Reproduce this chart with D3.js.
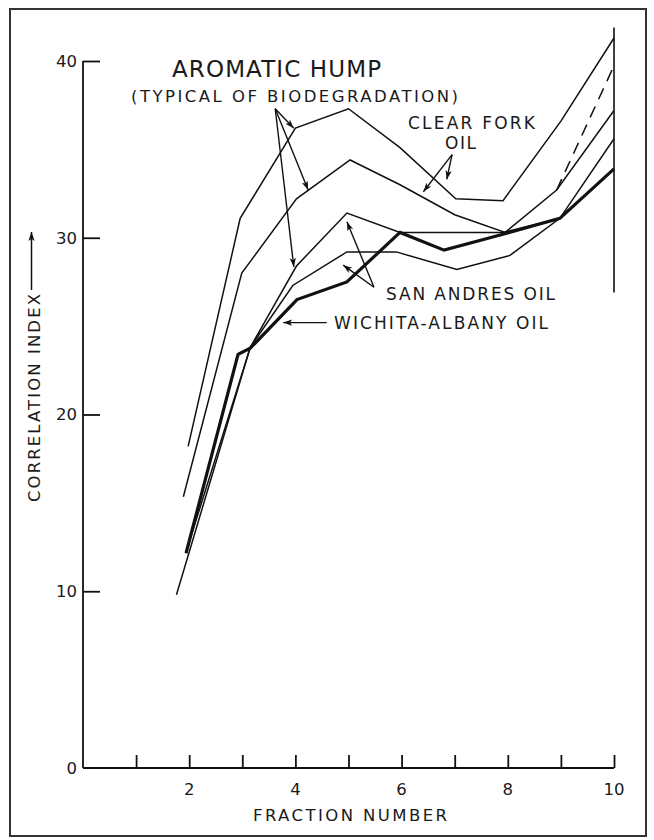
<!DOCTYPE html>
<html>
<head>
<meta charset="utf-8">
<script src="https://cdn.jsdelivr.net/npm/d3@7"></script>
<style>
  html, body { margin: 0; padding: 0; background: #fff; }
  svg { display: block; }
  text { font-family: "DejaVu Sans", "Liberation Sans", sans-serif; fill: #1a1a1a; }
</style>
</head>
<body>
<script>
// ---------------- data ----------------
const xTickValues = [1, 2, 3, 4, 5, 6, 7, 8, 9, 10];
const xTickLabels = [2, 4, 6, 8, 10];
const yTickValues = [0, 10, 20, 30, 40];

const clearForkUpperX = [1.98, 2.96, 4.0, 5.0, 5.97, 7.02, 7.91, 9.0, 10.0];
const clearForkUpperY = [18.2, 31.1, 36.2, 37.3, 35.1, 32.2, 32.1, 36.6, 41.3];

const clearForkLowerX = [1.89, 2.99, 4.02, 5.03, 5.97, 7.0, 7.95, 8.92, 10.0];
const clearForkLowerY = [15.35, 28.0, 32.2, 34.4, 33.0, 31.3, 30.3, 32.7, 37.2];

const clearForkDashedX = [8.92, 9.98];
const clearForkDashedY = [32.7, 39.6];

const sanAndresUpperX = [1.76, 3.15, 4.02, 4.97, 5.97, 7.91, 8.98, 10.0];
const sanAndresUpperY = [9.8, 23.8, 28.4, 31.4, 30.3, 30.3, 31.1, 33.9];

const sanAndresLowerX = [1.94, 3.15, 3.95, 4.97, 5.9, 7.04, 8.04, 8.98, 10.0];
const sanAndresLowerY = [12.2, 23.8, 27.3, 29.2, 29.2, 28.2, 29.0, 31.1, 35.6];

const wichitaX = [1.94, 2.92, 3.15, 4.03, 4.97, 5.97, 6.8, 7.91, 8.98, 10.0];
const wichitaY = [12.15, 23.4, 23.75, 26.5, 27.5, 30.3, 29.3, 30.2, 31.1, 33.9];

const rangeBarX = 10.0;
const rangeBarY = [26.9, 41.9];

// annotation arrows [fromX, fromY, toX, toY] in data units
const humpArrows = [[3.62, 37.3, 3.97, 36.2], [3.62, 37.3, 4.24, 32.7], [3.62, 37.3, 3.97, 28.35]];
const clearForkArrows = [[6.95, 34.7, 6.41, 32.6], [6.95, 34.7, 6.85, 33.3]];
const sanAndresArrows = [[5.48, 27.2, 4.97, 30.9], [5.48, 27.2, 4.9, 28.45]];
const wichitaArrows = [[4.59, 25.2, 3.77, 25.2]];

// ---------------- layout ----------------
const W = 654, H = 840;
const x = d3.scaleLinear().domain([0, 10]).range([83, 614]);
const y = d3.scaleLinear().domain([0, 40]).range([768, 61]);

const svg = d3.select("body").append("svg").attr("width", W).attr("height", H);

svg.append("defs").append("marker")
  .attr("id", "ah").attr("viewBox", "0 0 10 10")
  .attr("refX", 10).attr("refY", 5)
  .attr("markerWidth", 9).attr("markerHeight", 9)
  .attr("markerUnits", "userSpaceOnUse")
  .attr("orient", "auto")
  .append("path").attr("d", "M0,1.5 L10,5 L0,8.5 L2.5,5 Z").attr("fill", "#111");

// frame
svg.append("rect").attr("x", 10).attr("y", 9).attr("width", 636).attr("height", 827)
  .attr("fill", "none").attr("stroke", "#333").attr("stroke-width", 2);

// axes
const xAxis = d3.axisTop(x).tickValues(xTickValues).tickSize(13).tickFormat("");
const gx = svg.append("g").attr("transform", `translate(0,${y(0)})`).call(xAxis);
gx.select(".domain").attr("d", `M${x(0)},0H${x(10)}`);
gx.selectAll("line, path").attr("stroke", "#111").attr("stroke-width", 1.8);

const yAxis = d3.axisRight(y).tickValues(yTickValues.filter(v => v > 0)).tickSize(17).tickFormat("");
const gy = svg.append("g").attr("transform", `translate(${x(0)},0)`).call(yAxis);
gy.select(".domain").attr("d", `M0,${y(0)}V${y(40)}`);
gy.selectAll("line, path").attr("stroke", "#111").attr("stroke-width", 1.8);

// tick labels
svg.selectAll(".xl").data(xTickLabels).enter().append("text")
  .attr("x", d => x(d)).attr("y", 795)
  .attr("text-anchor", "middle").attr("font-size", 16.5).text(d => d);
svg.selectAll(".yl").data(yTickValues).enter().append("text")
  .attr("x", 77).attr("y", d => y(d)).attr("dy", "0.36em")
  .attr("text-anchor", "end").attr("font-size", 16.5).text(d => d);

// axis titles
svg.append("text").attr("x", 253).attr("y", 821).attr("font-size", 16.5)
  .attr("textLength", 194).attr("lengthAdjust", "spacing").text("FRACTION NUMBER");
svg.append("text").attr("transform", "translate(40,502) rotate(-90)").attr("font-size", 16.5)
  .attr("textLength", 208).attr("lengthAdjust", "spacing").text("CORRELATION INDEX");
svg.append("line").attr("x1", 31.5).attr("y1", 290).attr("x2", 31.5).attr("y2", 232)
  .attr("stroke", "#111").attr("stroke-width", 1.5).attr("marker-end", "url(#ah)");

// series
const line = d3.line().x(d => x(d[0])).y(d => y(d[1]));
const zipXY = (xs, ys) => xs.map((v, i) => [v, ys[i]]);

const series = [
  { xs: clearForkUpperX, ys: clearForkUpperY, w: 1.5, dash: null },
  { xs: clearForkLowerX, ys: clearForkLowerY, w: 1.5, dash: null },
  { xs: clearForkDashedX, ys: clearForkDashedY, w: 1.5, dash: "12,8" },
  { xs: sanAndresUpperX, ys: sanAndresUpperY, w: 1.5, dash: null },
  { xs: sanAndresLowerX, ys: sanAndresLowerY, w: 1.5, dash: null },
  { xs: wichitaX, ys: wichitaY, w: 3.2, dash: null }
];
svg.selectAll(".series").data(series).enter().append("path")
  .attr("d", d => line(zipXY(d.xs, d.ys)))
  .attr("fill", "none").attr("stroke", "#111")
  .attr("stroke-width", d => d.w)
  .attr("stroke-linejoin", "miter")
  .attr("stroke-dasharray", d => d.dash);

// range bar at fraction 10
svg.append("line").attr("x1", x(rangeBarX)).attr("x2", x(rangeBarX))
  .attr("y1", y(rangeBarY[0])).attr("y2", y(rangeBarY[1]))
  .attr("stroke", "#111").attr("stroke-width", 1.6);

// annotation arrows
const allArrows = [].concat(humpArrows, clearForkArrows, sanAndresArrows, wichitaArrows);
svg.selectAll(".arr").data(allArrows).enter().append("line")
  .attr("x1", d => x(d[0])).attr("y1", d => y(d[1]))
  .attr("x2", d => x(d[2])).attr("y2", d => y(d[3]))
  .attr("stroke", "#111").attr("stroke-width", 1.4).attr("marker-end", "url(#ah)");

// labels
const labels = [
  { t: "AROMATIC HUMP", x: 172, y: 77, s: 23, len: 209 },
  { t: "(TYPICAL OF BIODEGRADATION)", x: 131, y: 102, s: 16.5, len: 327 },
  { t: "CLEAR FORK", x: 408, y: 128.5, s: 17, len: 127 },
  { t: "OIL", x: 445, y: 148.5, s: 17, len: 31 },
  { t: "SAN ANDRES OIL", x: 386, y: 300, s: 17, len: 169 },
  { t: "WICHITA-ALBANY OIL", x: 334, y: 328.5, s: 17, len: 214 }
];
svg.selectAll(".lab").data(labels).enter().append("text")
  .attr("x", d => d.x).attr("y", d => d.y).attr("font-size", d => d.s)
  .attr("textLength", d => d.len).attr("lengthAdjust", "spacing")
  .text(d => d.t);
</script>
</body>
</html>
